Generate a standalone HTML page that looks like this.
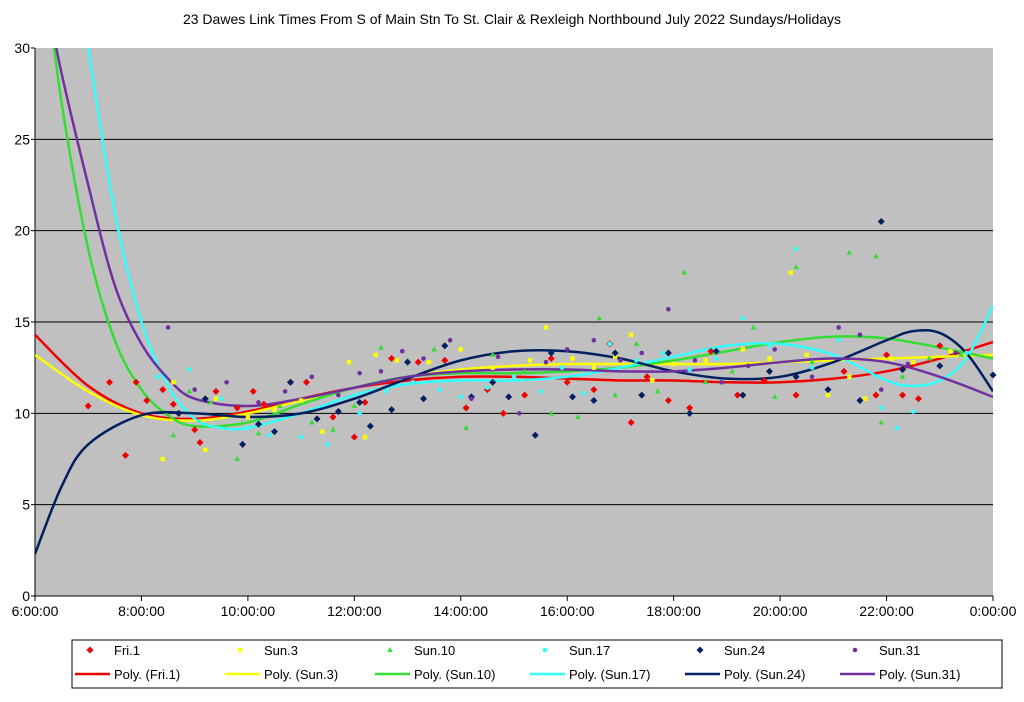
<!DOCTYPE html>
<html><head><meta charset="utf-8"><style>
body{margin:0;background:#fff;font-family:"Liberation Sans",sans-serif;}
svg text{font-family:"Liberation Sans",sans-serif;}
</style></head><body>
<svg id="c" width="1024" height="697" xmlns="http://www.w3.org/2000/svg">
<text x="512" y="24" text-anchor="middle" font-size="14" fill="#000">23 Dawes Link Times From S of Main Stn To St. Clair &amp; Rexleigh Northbound July 2022  Sundays/Holidays</text>
<defs><clipPath id="clip"><rect x="35" y="48" width="958" height="548"/></clipPath></defs>
<rect x="35" y="48" width="958" height="548" fill="#c0c0c0"/>
<g id="grid"></g><g id="axes"></g><g id="curves" clip-path="url(#clip)"></g><g id="pts"></g><g id="legend"></g>
</svg>
<script>
const yTicks=[0,5,10,15,20,25,30];
const xTickHours=[6,8,10,12,14,16,18,20,22,24];
const xTickLabels=["6:00:00","8:00:00","10:00:00","12:00:00","14:00:00","16:00:00","18:00:00","20:00:00","22:00:00","0:00:00"];
const seriesNames=["Fri.1","Sun.3","Sun.10","Sun.17","Sun.24","Sun.31"];
const fri1=[[7.0,10.4],[7.4,11.7],[7.7,7.7],[7.9,11.7],[8.1,10.7],[8.4,11.3],[8.6,10.5],[9.0,9.1],[9.1,8.4],[9.4,11.2],[9.8,10.3],[10.1,11.2],[10.3,10.5],[10.8,11.7],[11.1,11.7],[11.6,9.8],[12.0,8.7],[12.2,10.6],[12.7,13.0],[13.2,12.8],[13.7,12.9],[14.1,10.3],[14.5,11.3],[14.8,10.0],[15.2,11.0],[15.7,13.0],[16.0,11.7],[16.5,11.3],[16.8,13.8],[17.2,9.5],[17.5,12.0],[17.9,10.7],[18.3,10.3],[18.7,13.4],[19.2,11.0],[19.7,11.8],[20.3,11.0],[21.2,12.3],[21.8,11.0],[22.0,13.2],[22.3,11.0],[22.6,10.8],[23.0,13.7]];
const sun3=[[8.4,7.5],[8.6,11.7],[9.2,8.0],[9.4,10.8],[10.0,9.8],[10.5,10.2],[11.0,10.7],[11.4,9.0],[11.9,12.8],[12.2,8.7],[12.4,13.2],[12.8,12.9],[13.4,12.8],[14.0,13.5],[14.6,12.5],[15.3,12.9],[15.6,14.7],[16.1,13.0],[16.5,12.5],[16.9,13.1],[17.2,14.3],[17.6,11.8],[18.0,12.7],[18.6,12.9],[19.3,13.5],[19.8,13.0],[20.2,17.7],[20.5,13.2],[20.9,11.0],[21.3,12.0],[21.6,10.8],[22.1,13.0],[22.5,12.8],[23.2,13.4]];
const sun10=[[8.6,8.8],[8.9,11.2],[9.3,10.6],[9.8,7.5],[10.2,8.9],[10.6,10.4],[11.2,9.5],[11.6,9.1],[12.0,10.4],[12.5,13.6],[13.0,12.9],[13.5,13.5],[14.1,9.2],[14.6,13.2],[15.2,12.3],[15.7,10.0],[16.2,9.8],[16.6,15.2],[16.9,11.0],[17.3,13.8],[17.7,11.2],[18.2,17.7],[18.6,11.7],[19.1,12.3],[19.5,14.7],[19.9,10.9],[20.3,18.0],[20.6,12.8],[21.3,18.8],[21.8,18.6],[21.9,9.5],[22.3,12.0],[22.8,13.0],[23.4,13.2]];
const sun17=[[8.3,12.0],[8.9,12.4],[9.5,10.8],[10.0,9.2],[10.4,8.8],[11.0,8.7],[11.5,8.3],[12.1,10.0],[12.6,11.2],[13.1,11.7],[13.6,11.3],[14.0,10.9],[14.5,11.4],[15.0,12.0],[15.5,11.2],[15.9,12.5],[16.3,11.1],[16.8,13.8],[17.3,12.9],[17.8,13.3],[18.3,12.4],[18.8,13.0],[19.3,15.2],[19.8,13.7],[20.3,19.0],[20.6,12.5],[21.1,14.0],[21.9,10.3],[22.2,9.2],[22.5,10.1],[23.0,12.6],[23.5,13.3]];
const sun24=[[8.7,10.0],[9.2,10.8],[9.9,8.3],[10.2,9.4],[10.5,9.0],[10.8,11.7],[11.3,9.7],[11.7,10.1],[12.1,10.6],[12.3,9.3],[12.7,10.2],[13.0,12.8],[13.3,10.8],[13.7,13.7],[14.2,10.9],[14.6,11.7],[14.9,10.9],[15.4,8.8],[15.7,13.3],[16.1,10.9],[16.5,10.7],[16.9,13.3],[17.4,11.0],[17.9,13.3],[18.3,10.0],[18.8,13.4],[19.3,11.0],[19.8,12.3],[20.3,12.0],[20.9,11.3],[21.5,10.7],[21.9,20.5],[22.3,12.4],[23.0,12.6],[24.0,12.1]];
const sun31=[[8.5,14.7],[9.0,11.3],[9.6,11.7],[10.2,10.6],[10.7,11.2],[11.2,12.0],[11.7,11.0],[12.1,12.2],[12.5,12.3],[12.9,13.4],[13.3,13.0],[13.8,14.0],[14.2,10.8],[14.7,13.1],[15.1,10.0],[15.6,12.8],[16.0,13.5],[16.5,14.0],[17.0,12.9],[17.4,13.3],[17.9,15.7],[18.4,12.9],[18.9,11.7],[19.4,12.6],[19.9,13.5],[20.6,12.0],[21.1,14.7],[21.5,14.3],[21.9,11.3],[22.4,12.7],[23.3,13.3]];
const trendFri1=[[6,14.3],[7,11.5],[8,10.0],[9,9.7],[10,10.1],[11,10.8],[12,11.4],[13,11.8],[14,12.0],[15,12.0],[16,11.9],[17,11.8],[18,11.8],[19,11.7],[20,11.7],[21,11.9],[22,12.3],[23,13.0],[24,13.9]];
const trendSun3=[[6,13.2],[7,11.2],[8,9.9],[9,9.6],[10,10.0],[11,10.7],[12,11.4],[13,12.0],[14,12.4],[15,12.6],[16,12.7],[17,12.7],[18,12.7],[19,12.7],[20,12.8],[21,12.9],[22,13.0],[23,13.1],[24,13.2]];
const trendSun10=[[6.2,34],[6.5,27],[7,19],[7.5,14],[8,11.3],[8.5,9.9],[9,9.3],[10,9.5],[11,10.5],[12,11.4],[13,12.0],[14,12.2],[15,12.2],[16,12.3],[17,12.5],[18,12.9],[19,13.4],[20,13.9],[21,14.2],[22,14.1],[23,13.6],[24,13.0]];
const trendSun17=[[6.8,34],[7,30],[7.5,21],[8,15],[8.5,11.5],[9,9.7],[9.5,9.2],[10,9.2],[11,10.0],[12,11.0],[13,11.6],[14,11.8],[15,11.8],[16,12.0],[17,12.5],[18,13.1],[19,13.7],[20,13.8],[21,13.2],[22,11.8],[22.5,11.5],[23,11.8],[23.5,13.0],[24,15.9]];
const trendSun24=[[6,2.3],[6.5,6.0],[7,8.3],[8,9.9],[9,10.0],[10,9.8],[11,10.0],[12,10.8],[13,11.9],[14,12.9],[15,13.4],[16,13.4],[17,13.0],[18,12.3],[19,11.9],[20,12.0],[21,12.8],[22,14.0],[22.5,14.5],[23,14.4],[23.5,13.3],[24,11.2]];
const trendSun31=[[6.1,36],[6.4,30],[7,22.5],[7.5,17],[8,13.8],[8.5,11.9],[9,10.8],[10,10.4],[11,10.8],[12,11.4],[13,12.0],[14,12.3],[15,12.4],[16,12.4],[17,12.3],[18,12.3],[19,12.5],[20,12.8],[21,13.0],[22,12.8],[23,12.0],[24,10.9]];

const X0=35,X1=993,Y0=596,Y1=48;
const xs=h=>X0+(h-6)/18*(X1-X0);
const ys=v=>Y0-v/30*(Y0-Y1);
const NS="http://www.w3.org/2000/svg";
function mk(tag,attrs,parent){const e=document.createElementNS(NS,tag);for(const k in attrs)e.setAttribute(k,attrs[k]);parent.appendChild(e);return e;}
const grid=document.getElementById('grid'),axes=document.getElementById('axes'),curves=document.getElementById('curves'),pts=document.getElementById('pts'),leg=document.getElementById('legend');
yTicks.forEach(t=>{
  if(t>0&&t<30){const l=mk('line',{x1:X0,x2:X1,y1:ys(t),y2:ys(t),stroke:'#000','stroke-width':1},grid);
  
  }
  const tx=mk('text',{x:X0-5,y:ys(t)+5,'text-anchor':'end','font-size':14},axes);tx.textContent=t;
  
  
  mk('line',{x1:X0-4,x2:X0,y1:ys(t),y2:ys(t),stroke:'#000'},axes);
});
xTickHours.forEach((h,i)=>{
  mk('line',{x1:xs(h),x2:xs(h),y1:Y0,y2:Y0+5,stroke:'#000'},axes);
  const tx=mk('text',{x:xs(h),y:Y0+20,'text-anchor':'middle','font-size':14},axes);tx.textContent=xTickLabels[i];
  
  
});
mk('line',{x1:X0,x2:X0,y1:Y1,y2:Y0,stroke:'#000'},axes);
mk('line',{x1:X0,x2:X1,y1:Y0,y2:Y0,stroke:'#000'},axes);
const colors=["#ee0000","#ffff00","#33dd33","#33ffff","#002060","#7030a0"];
const shapes=["diamond","square","triangle","circle","diamond","circle"];
const dataSets=[fri1,sun3,sun10,sun17,sun24,sun31];
const trends=[trendFri1,trendSun3,trendSun10,trendSun17,trendSun24,trendSun31];
function marker(shape,cx,cy,col,parent){
  if(shape==="diamond")return mk('path',{d:`M${cx},${cy-3.5}L${cx+3.5},${cy}L${cx},${cy+3.5}L${cx-3.5},${cy}Z`,fill:col},parent);
  if(shape==="square")return mk('rect',{x:cx-2.2,y:cy-2.2,width:4.4,height:4.4,fill:col},parent);
  if(shape==="triangle")return mk('path',{d:`M${cx},${cy-3}L${cx+2.8},${cy+2}L${cx-2.8},${cy+2}Z`,fill:col},parent);
  return mk('circle',{cx:cx,cy:cy,r:2.3,fill:col},parent);
}
function smooth(p){let d=`M${p[0][0]},${p[0][1]}`;for(let i=0;i<p.length-1;i++){const a=p[i-1]||p[i],b=p[i],c=p[i+1],e=p[i+2]||c;
  d+=`C${b[0]+(c[0]-a[0])/6},${b[1]+(c[1]-a[1])/6} ${c[0]-(e[0]-b[0])/6},${c[1]-(e[1]-b[1])/6} ${c[0]},${c[1]}`;}return d;}
trends.forEach((t,i)=>{
  const p=mk('path',{d:smooth(t.map(q=>[xs(q[0]),ys(q[1])])),fill:'none',stroke:colors[i],'stroke-width':2.5},curves);
  
  
});
dataSets.forEach((ds,i)=>{ds.forEach(q=>{
  const m=marker(shapes[i],xs(q[0]),ys(q[1]),colors[i],pts);
  
  
});});
const lb=mk('rect',{x:72,y:640,width:930,height:48,fill:'#fff',stroke:'#000'},leg);


const colX=[90,240,390,545,700,855];
seriesNames.forEach((n,i)=>{
  const m=marker(shapes[i],colX[i],650,colors[i],leg);
  
  
  const t=mk('text',{x:colX[i]+24,y:655,'font-size':13},leg);t.textContent=n;
  
  
  const l=mk('line',{x1:colX[i]-15,x2:colX[i]+20,y1:674,y2:674,stroke:colors[i],'stroke-width':2.5},leg);
  
  
  const t2=mk('text',{x:colX[i]+24,y:679,'font-size':13},leg);t2.textContent='Poly. ('+n+')';
  
  
});
</script>
</body></html>
